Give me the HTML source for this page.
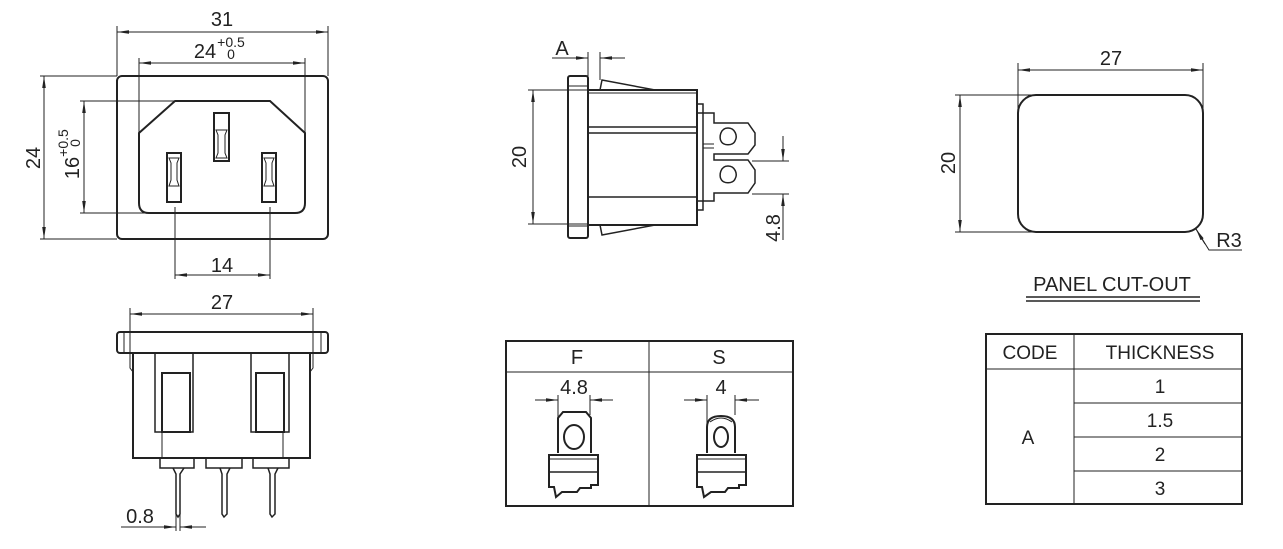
<!DOCTYPE html>
<html><head><meta charset="utf-8"><style>
html,body{margin:0;padding:0;background:#fff;}
svg{display:block;}
text{font-family:"Liberation Sans",Arial,sans-serif;fill:#222;}
</style></head><body>
<svg width="1283" height="549" viewBox="0 0 1283 549" xmlns="http://www.w3.org/2000/svg">
<defs>
<marker id="a" viewBox="0 0 12 6" refX="12" refY="3" markerWidth="12" markerHeight="6" orient="auto-start-reverse" markerUnits="userSpaceOnUse"><path d="M0,1.2 L12,3 L0,4.8 Z" fill="#222"/></marker>
</defs>
<g stroke="#222" fill="none" stroke-width="1">
<!-- FRONT VIEW -->
<rect x="117" y="76" width="211" height="163" rx="5" stroke-width="2"/>
<path d="M175,101 L270,101 L305,133 L305,203 Q305,213 295,213 L149,213 Q139,213 139,203 L139,133 Z" stroke-width="2"/>
<rect x="214" y="113" width="15" height="48" stroke-width="2"/>
<path d="M216,130 L227,130 L225,135 L225,153 L227,158 L216,158 L218,153 L218,135 Z"/>
<rect x="167" y="153" width="14" height="49" stroke-width="2"/>
<path d="M169,158 L179,158 L177,163 L177,180 L179,186 L169,186 L171,180 L171,163 Z"/>
<rect x="262" y="153" width="14" height="49" stroke-width="2"/>
<path d="M264,158 L274,158 L272,163 L272,180 L274,186 L264,186 L266,180 L266,163 Z"/>
<!-- dims front -->
<line x1="117" y1="26" x2="117" y2="76"/><line x1="328" y1="26" x2="328" y2="76"/>
<line x1="117" y1="32" x2="328" y2="32" marker-start="url(#a)" marker-end="url(#a)"/>
<line x1="139" y1="58" x2="139" y2="132"/><line x1="305" y1="58" x2="305" y2="132"/>
<line x1="139" y1="63" x2="305" y2="63" marker-start="url(#a)" marker-end="url(#a)"/>
<line x1="40" y1="76" x2="117" y2="76"/><line x1="40" y1="239" x2="117" y2="239"/>
<line x1="44" y1="76" x2="44" y2="239" marker-start="url(#a)" marker-end="url(#a)"/>
<line x1="80" y1="101" x2="175" y2="101"/><line x1="80" y1="213" x2="175" y2="213"/>
<line x1="84" y1="101" x2="84" y2="213" marker-start="url(#a)" marker-end="url(#a)"/>
<line x1="175" y1="207" x2="175" y2="279"/><line x1="270" y1="207" x2="270" y2="279"/>
<line x1="175" y1="275" x2="270" y2="275" marker-start="url(#a)" marker-end="url(#a)"/>
<!-- BOTTOM VIEW -->
<rect x="117" y="332" width="211" height="21" rx="3" stroke-width="2"/>
<line x1="124" y1="333" x2="124" y2="352"/><line x1="321" y1="333" x2="321" y2="352"/>
<rect x="133" y="353" width="177" height="105" stroke-width="2"/>
<path d="M130,353 L130,368 L133,372 M313,353 L313,368 L310,372"/>
<rect x="155" y="353" width="38" height="79" stroke-width="1.5"/>
<rect x="162" y="373" width="28" height="59" stroke-width="2"/>
<rect x="251" y="353" width="38" height="79" stroke-width="1.5"/>
<rect x="256" y="373" width="28" height="59" stroke-width="2"/>
<line x1="162" y1="432" x2="162" y2="458"/><line x1="283" y1="432" x2="283" y2="458"/>
<rect x="160" y="458" width="34" height="10" stroke-width="1.5"/>
<rect x="206" y="458" width="36" height="10" stroke-width="1.5"/>
<rect x="253" y="458" width="36" height="10" stroke-width="1.5"/>
<path d="M173,468 L176,474 L176,514 L178,517 L180,514 L180,474 L184,468" stroke-width="1.5"/>
<path d="M220,468 L222,474 L222,514 L224,517 L227,514 L227,474 L230,468" stroke-width="1.5"/>
<path d="M268,468 L270,474 L270,514 L272,517 L275,514 L275,474 L278,468" stroke-width="1.5"/>
<line x1="130" y1="308" x2="130" y2="353"/><line x1="313" y1="308" x2="313" y2="353"/>
<line x1="130" y1="314" x2="313" y2="314" marker-start="url(#a)" marker-end="url(#a)"/>
<line x1="176" y1="512" x2="176" y2="531"/><line x1="180" y1="512" x2="180" y2="531"/>
<line x1="121" y1="527" x2="176" y2="527" marker-end="url(#a)"/>
<line x1="206" y1="527" x2="180" y2="527" marker-end="url(#a)"/>
<!-- SIDE VIEW -->
<rect x="568" y="76" width="20" height="162" rx="2" stroke-width="2"/>
<line x1="569" y1="86" x2="587" y2="86"/><line x1="569" y1="226" x2="587" y2="226"/>
<path d="M600,90 L602,80 L655,90" stroke-width="1.5"/>
<path d="M600,225 L602,235 L655,225" stroke-width="1.5"/>
<rect x="588" y="90" width="109" height="135" stroke-width="2"/>
<line x1="588" y1="93" x2="697" y2="93"/>
<line x1="588" y1="127" x2="697" y2="127" stroke-width="1.5"/><line x1="588" y1="133" x2="697" y2="133" stroke-width="1.5"/>
<line x1="588" y1="197" x2="697" y2="197" stroke-width="1.5"/>
<path d="M697,104 L703,104 L703,113 L697,113 M697,210 L703,210 L703,201 L697,201" stroke-width="1.5"/>
<path d="M703,113 L714,113 L714,123 L748,123 L755,133 L755,145 L748,154 L714,154 L714,160 L748,160 L755,170 L755,183 L748,193 L714,193 L714,201 L703,201 Z" stroke-width="1.5"/>
<line x1="703" y1="144" x2="714" y2="144"/><line x1="703" y1="148" x2="714" y2="148"/>
<path d="M728,128 C720,128 719,138 721,141 C723,146 733,146 735,141 C738,136 735,128 728,128 Z" stroke-width="1.5"/>
<path d="M728,166 C720,166 719,176 721,179 C723,184 733,184 735,179 C738,174 735,166 728,166 Z" stroke-width="1.5"/>
<line x1="528" y1="90" x2="588" y2="90"/><line x1="528" y1="224" x2="588" y2="224"/>
<line x1="533" y1="90" x2="533" y2="224" marker-start="url(#a)" marker-end="url(#a)"/>
<line x1="588" y1="52" x2="588" y2="76"/><line x1="600" y1="52" x2="600" y2="80"/>
<line x1="552" y1="58" x2="588" y2="58" marker-end="url(#a)"/>
<line x1="625" y1="58" x2="600" y2="58" marker-end="url(#a)"/>
<line x1="752" y1="161" x2="789" y2="161"/><line x1="752" y1="194" x2="789" y2="194"/>
<line x1="783" y1="136" x2="783" y2="161" marker-end="url(#a)"/>
<line x1="783" y1="240" x2="783" y2="194" marker-end="url(#a)"/>
<!-- F/S TABLE -->
<rect x="506" y="341" width="287" height="165" stroke-width="2"/>
<line x1="506" y1="372" x2="793" y2="372"/>
<line x1="649" y1="341" x2="649" y2="506"/>
<line x1="558" y1="395" x2="558" y2="450"/><line x1="590" y1="395" x2="590" y2="415"/>
<line x1="535" y1="400" x2="558" y2="400" marker-end="url(#a)"/>
<line x1="613" y1="400" x2="590" y2="400" marker-end="url(#a)"/>
<path d="M558,453 L558,418 L563,412 L586,412 L591,418 L591,453" stroke-width="2"/>
<ellipse cx="574" cy="437" rx="10" ry="12" stroke-width="2"/>
<path d="M549,458 L549,455 L598,455 L598,485 L591,485 L591,488 L580,488 L577,492 L562,492 L556,497 L554,487 L549,487 Z" stroke-width="2"/>
<line x1="549" y1="459" x2="598" y2="459"/><line x1="549" y1="472" x2="598" y2="472" stroke-width="1.5"/>
<line x1="707" y1="395" x2="707" y2="450"/><line x1="735" y1="395" x2="735" y2="415"/>
<line x1="684" y1="400" x2="707" y2="400" marker-end="url(#a)"/>
<line x1="759" y1="400" x2="735" y2="400" marker-end="url(#a)"/>
<path d="M707,453 L707,427 Q707,416 721,416 Q735,416 735,427 L735,453" stroke-width="2"/>
<path d="M710,422 Q721,414 732,422"/>
<ellipse cx="721" cy="437" rx="7" ry="10" stroke-width="2"/>
<path d="M697,458 L697,455 L746,455 L746,485 L739,485 L739,488 L728,488 L725,492 L711,492 L704,497 L702,487 L697,487 Z" stroke-width="2"/>
<line x1="697" y1="459" x2="746" y2="459"/><line x1="697" y1="472" x2="746" y2="472" stroke-width="1.5"/>
<!-- PANEL CUT-OUT -->
<rect x="1018" y="95" width="185" height="137" rx="18" stroke-width="2"/>
<line x1="1018" y1="63" x2="1018" y2="110"/><line x1="1203" y1="63" x2="1203" y2="110"/>
<line x1="1018" y1="70" x2="1203" y2="70" marker-start="url(#a)" marker-end="url(#a)"/>
<line x1="955" y1="95" x2="1035" y2="95"/><line x1="955" y1="232" x2="1035" y2="232"/>
<line x1="960" y1="95" x2="960" y2="232" marker-start="url(#a)" marker-end="url(#a)"/>
<path d="M1242,250 L1209,250 L1196,229" />
<line x1="1205" y1="244" x2="1196" y2="229" marker-end="url(#a)"/>
<line x1="1026" y1="297" x2="1200" y2="297" stroke-width="1.5"/>
<line x1="1026" y1="301" x2="1200" y2="301" stroke-width="1.5"/>
<!-- CODE TABLE -->
<rect x="986" y="334" width="256" height="170" stroke-width="2"/>
<line x1="986" y1="369" x2="1242" y2="369"/>
<line x1="1074" y1="334" x2="1074" y2="504"/>
<line x1="1074" y1="403" x2="1242" y2="403"/>
<line x1="1074" y1="437" x2="1242" y2="437"/>
<line x1="1074" y1="471" x2="1242" y2="471"/>
</g>
<g font-size="20" text-anchor="middle">
<text x="222" y="26">31</text>
<text x="205" y="58">24</text>
<text x="231" y="47" font-size="14">+0.5</text>
<text x="231" y="59" font-size="14">0</text>
<text x="0" y="0" transform="translate(40,158) rotate(-90)">24</text>
<text x="0" y="0" transform="translate(79,168) rotate(-90)">16</text>
<text x="0" y="0" transform="translate(68,143) rotate(-90)" font-size="14">+0.5</text>
<text x="0" y="0" transform="translate(80,143) rotate(-90)" font-size="14">0</text>
<text x="222" y="272">14</text>
<text x="222" y="309">27</text>
<text x="140" y="523">0.8</text>
<text x="562" y="55">A</text>
<text x="0" y="0" transform="translate(526,157) rotate(-90)">20</text>
<text x="0" y="0" transform="translate(780,228) rotate(-90)">4.8</text>
<text x="577" y="364">F</text>
<text x="719" y="364">S</text>
<text x="574" y="394">4.8</text>
<text x="721" y="394">4</text>
<text x="1111" y="65">27</text>
<text x="0" y="0" transform="translate(955,163) rotate(-90)">20</text>
<text x="1229" y="247">R3</text>
<text x="1112" y="291">PANEL CUT-OUT</text>
<g font-size="19">
<text x="1030" y="359">CODE</text>
<text x="1160" y="359">THICKNESS</text>
<text x="1028" y="444">A</text>
<text x="1160" y="393">1</text>
<text x="1160" y="427">1.5</text>
<text x="1160" y="461">2</text>
<text x="1160" y="495">3</text>
</g>
</g>
</svg>
</body></html>
